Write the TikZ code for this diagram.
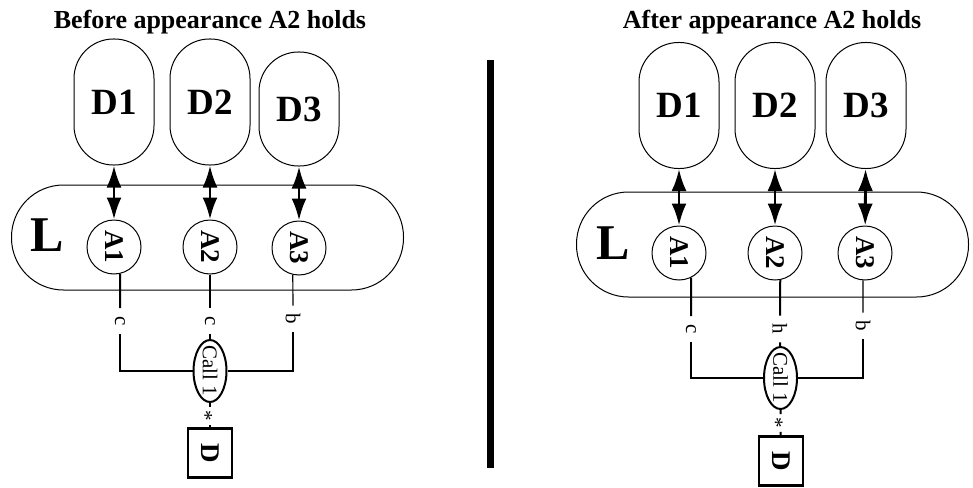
\documentclass[tikz,border=0pt]{standalone}
\usepackage{fontspec}
\setmainfont{Liberation Serif}
\usepackage{graphicx}
\usetikzlibrary{shapes.geometric, arrows.meta}
\tikzstyle{heading} = [font=\fontsize{26}{30}\selectfont\bfseries]
\tikzstyle{dombox} = [rectangle, rounded corners=39.5pt, minimum width=80pt, minimum height=126pt, text centered, draw=black, line width=1pt, font=\fontsize{37}{40}\selectfont\bfseries]
\tikzstyle{layerbox} = [rectangle, rounded corners=52pt, minimum width=392pt, minimum height=105pt, draw=black, line width=1pt]
\tikzstyle{bigletter} = [font=\fontsize{50}{54}\selectfont\bfseries]
\tikzstyle{appear} = [circle, minimum size=54pt, inner sep=0pt, draw=black, line width=1pt, font=\fontsize{27}{30}\selectfont\bfseries]
\tikzstyle{callnode} = [ellipse, minimum width=33pt, minimum height=62pt, inner sep=-4pt, draw=black, line width=2pt, font=\fontsize{21}{24}\selectfont]
\tikzstyle{wirelabel} = [inner xsep=2pt, inner ysep=8pt, font=\fontsize{21}{24}\selectfont]
\tikzstyle{starlabel} = [inner xsep=2pt, inner ysep=3.5pt, font=\fontsize{21}{24}\selectfont]
\tikzstyle{devbox} = [rectangle, minimum width=44pt, minimum height=49pt, draw=black, line width=2.5pt, font=\fontsize{27}{30}\selectfont\bfseries]
\tikzstyle{arrow} = [line width=2.8pt, {Latex[length=22pt,width=15pt]}-{Latex[length=22pt,width=15pt]}]
\tikzstyle{wire} = [line width=2pt]
\tikzstyle{thinwire} = [line width=1.2pt]
\newcommand{\rotstar}{\rotatebox{-90}{\raisebox{0pt}[1.1em][0pt]{*}}}

\begin{document}
\begin{tikzpicture}[x=1pt, y=-1pt]
    \useasboundingbox (0,0) rectangle (973,487);

    % before
    \node (t1) [heading] at (210,22) {Before appearance A2 holds};
    \node (ld) [layerbox] at (207.5,237.5) {};
    \node (ll) [bigletter] at (47,235) {L};
    \node (d11) [dombox] at (114,102) {D1};
    \node (d12) [dombox] at (210,102) {D2};
    \node (d13) [dombox, minimum height=114pt] at (299,109) {D3};
    \node (a11) [appear] at (114,247) {\rotatebox{-90}{A1}};
    \node (a12) [appear] at (210,247) {\rotatebox{-90}{A2}};
    \node (a13) [appear] at (299,248) {\rotatebox{-90}{A3}};
    \node (c11) [wirelabel] at (120,321) {\rotatebox{-90}{c}};
    \node (c12) [wirelabel] at (210,321) {\rotatebox{-90}{c}};
    \node (b13) [wirelabel] at (293,319) {\rotatebox{-90}{b}};
    \node (call1) [callnode] at (210,371) {\rotatebox{-90}{Call 1}};
    \node (s1) [starlabel] at (210,416) {\rotstar};
    \node (dev1) [devbox] at (210,453) {\rotatebox{-90}{D}};

    \draw [arrow] (d11) -- (a11);
    \draw [arrow] (d12) -- (a12);
    \draw [arrow] (d13) -- (a13);
    \draw [wire] (a11.-77) -- (c11);
    \draw [wire] (c11) |- (call1);
    \draw [wire] (a12) -- (c12) -- (call1);
    \draw [thinwire] (a13.-103) -- (b13);
    \draw [wire] (b13) |- (call1);
    \draw [wire] (call1) -- (s1) -- (dev1);

    % divider
    \fill (487,60) rectangle (494,468);

    % after
    \node (t2) [heading] at (772,22) {After appearance A2 holds};
    \node (lr) [layerbox] at (772.5,244.5) {};
    \node (lr2) [bigletter] at (613,243) {L};
    \node (d21) [dombox] at (679,105.5) {D1};
    \node (d22) [dombox] at (775,105.5) {D2};
    \node (d23) [dombox] at (866,105.5) {D3};
    \node (a21) [appear] at (679,253) {\rotatebox{-90}{A1}};
    \node (a22) [appear] at (775,253) {\rotatebox{-90}{A2}};
    \node (a23) [appear] at (865,253) {\rotatebox{-90}{A3}};
    \node (c21) [wirelabel] at (691,329) {\rotatebox{-90}{c}};
    \node (h22) [wirelabel] at (780,329) {\rotatebox{-90}{h}};
    \node (b23) [wirelabel] at (863,326) {\rotatebox{-90}{b}};
    \node (call2) [callnode] at (780.5,378) {\rotatebox{-90}{Call 1}};
    \node (s2) [starlabel] at (780.5,423) {\rotstar};
    \node (dev2) [devbox] at (781,461) {\rotatebox{-90}{D}};

    \draw [arrow] (d21) -- (a21);
    \draw [arrow] (d22) -- (a22);
    \draw [arrow] (d23) -- (a23);
    \draw [wire] (a21.-64) -- (c21);
    \draw [wire] (c21) |- (call2);
    \draw [wire] (a22.-79) -- (h22) -- (call2);
    \draw [thinwire] (a23.-94) -- (b23);
    \draw [wire] (b23) |- (call2);
    \draw [wire] (call2) -- (s2) -- (dev2);
\end{tikzpicture}
\end{document}
